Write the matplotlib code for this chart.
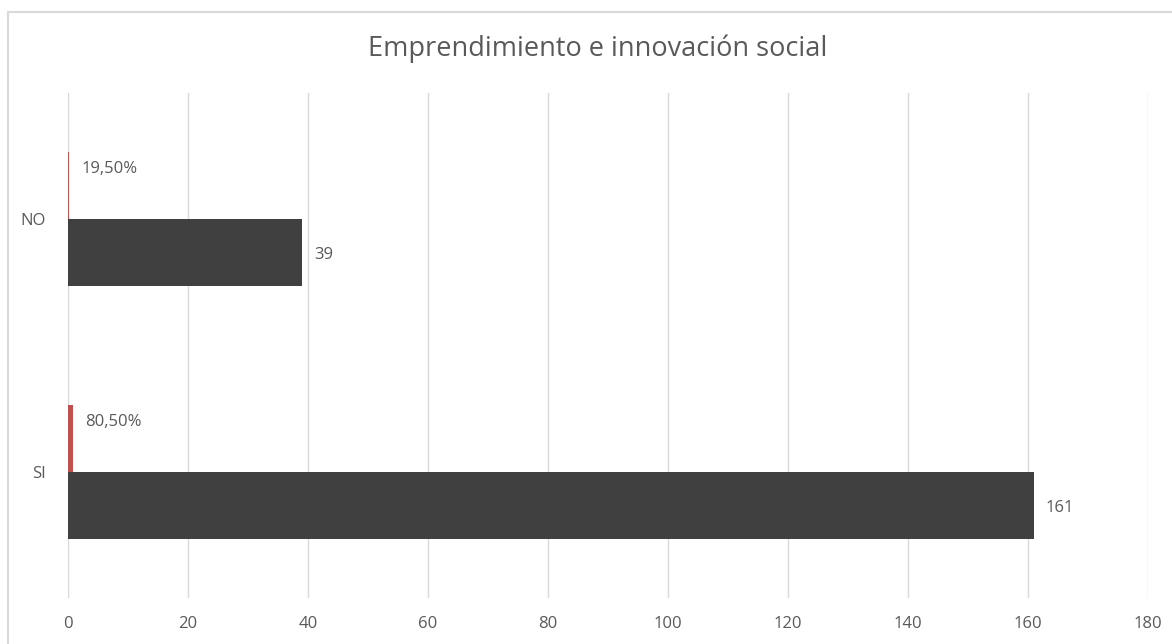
import matplotlib.pyplot as plt
from matplotlib.patches import Rectangle

plt.rcParams['font.family'] = ['Open Sans', 'DejaVu Sans']

TITLE = "Emprendimiento e innovación social"
categories = ["SI", "NO"]
counts = [161, 39]
shares = [0.805, 0.195]
share_labels = ["80,50%", "19,50%"]
x_ticks = [0, 20, 40, 60, 80, 100, 120, 140, 160, 180]

GRAY_TXT = "#595959"
BAR_DARK = "#404040"
BAR_RED = "#C0504D"
GRID = "#D9D9D9"

fig = plt.figure(figsize=(11.72, 6.44), dpi=100)
ax = fig.add_axes([68 / 1172, 46 / 644, 1080 / 1172, 505 / 644])

# chart frame (left and top edges visible in the original)
fig.patches.append(Rectangle((8 / 1172, -0.1), 1.2, (632 / 644) + 0.1,
                             transform=fig.transFigure, fill=False,
                             edgecolor="#D9D9D9", linewidth=1.5))

ypos = list(range(len(categories)))
h = 0.265
ax.barh([y - h / 2 for y in ypos], counts, height=h, color=BAR_DARK, zorder=3)
ax.barh([y + h / 2 for y in ypos], shares, height=h, color=BAR_RED, zorder=3)

for y, c in zip(ypos, counts):
    ax.text(c + 2, y - h / 2 - 0.01, str(c), va="center", ha="left",
            fontsize=12, color=GRAY_TXT)
for y, s, lab in zip(ypos, shares, share_labels):
    ax.text(s + 2, y + h / 2 + 0.065, lab, va="center", ha="left",
            fontsize=12, color=GRAY_TXT)

ax.set_xlim(0, 180)
ax.set_ylim(-0.5, 1.5)
ax.set_xticks(x_ticks)
ax.set_yticks(ypos)
ax.set_yticklabels(categories)
ax.tick_params(axis="both", length=0, labelsize=12, colors=GRAY_TXT)
ax.tick_params(axis="x", pad=13)
ax.tick_params(axis="y", pad=16)
ax.xaxis.grid(True, color=GRID, linewidth=1, zorder=0)
ax.set_axisbelow(True)
for sp in ax.spines.values():
    sp.set_visible(False)

fig.text(598 / 1172, 1 - 49 / 644, TITLE, ha="center", va="center",
         fontsize=19.5, color=GRAY_TXT)

fig.savefig("out.png", dpi=100)
